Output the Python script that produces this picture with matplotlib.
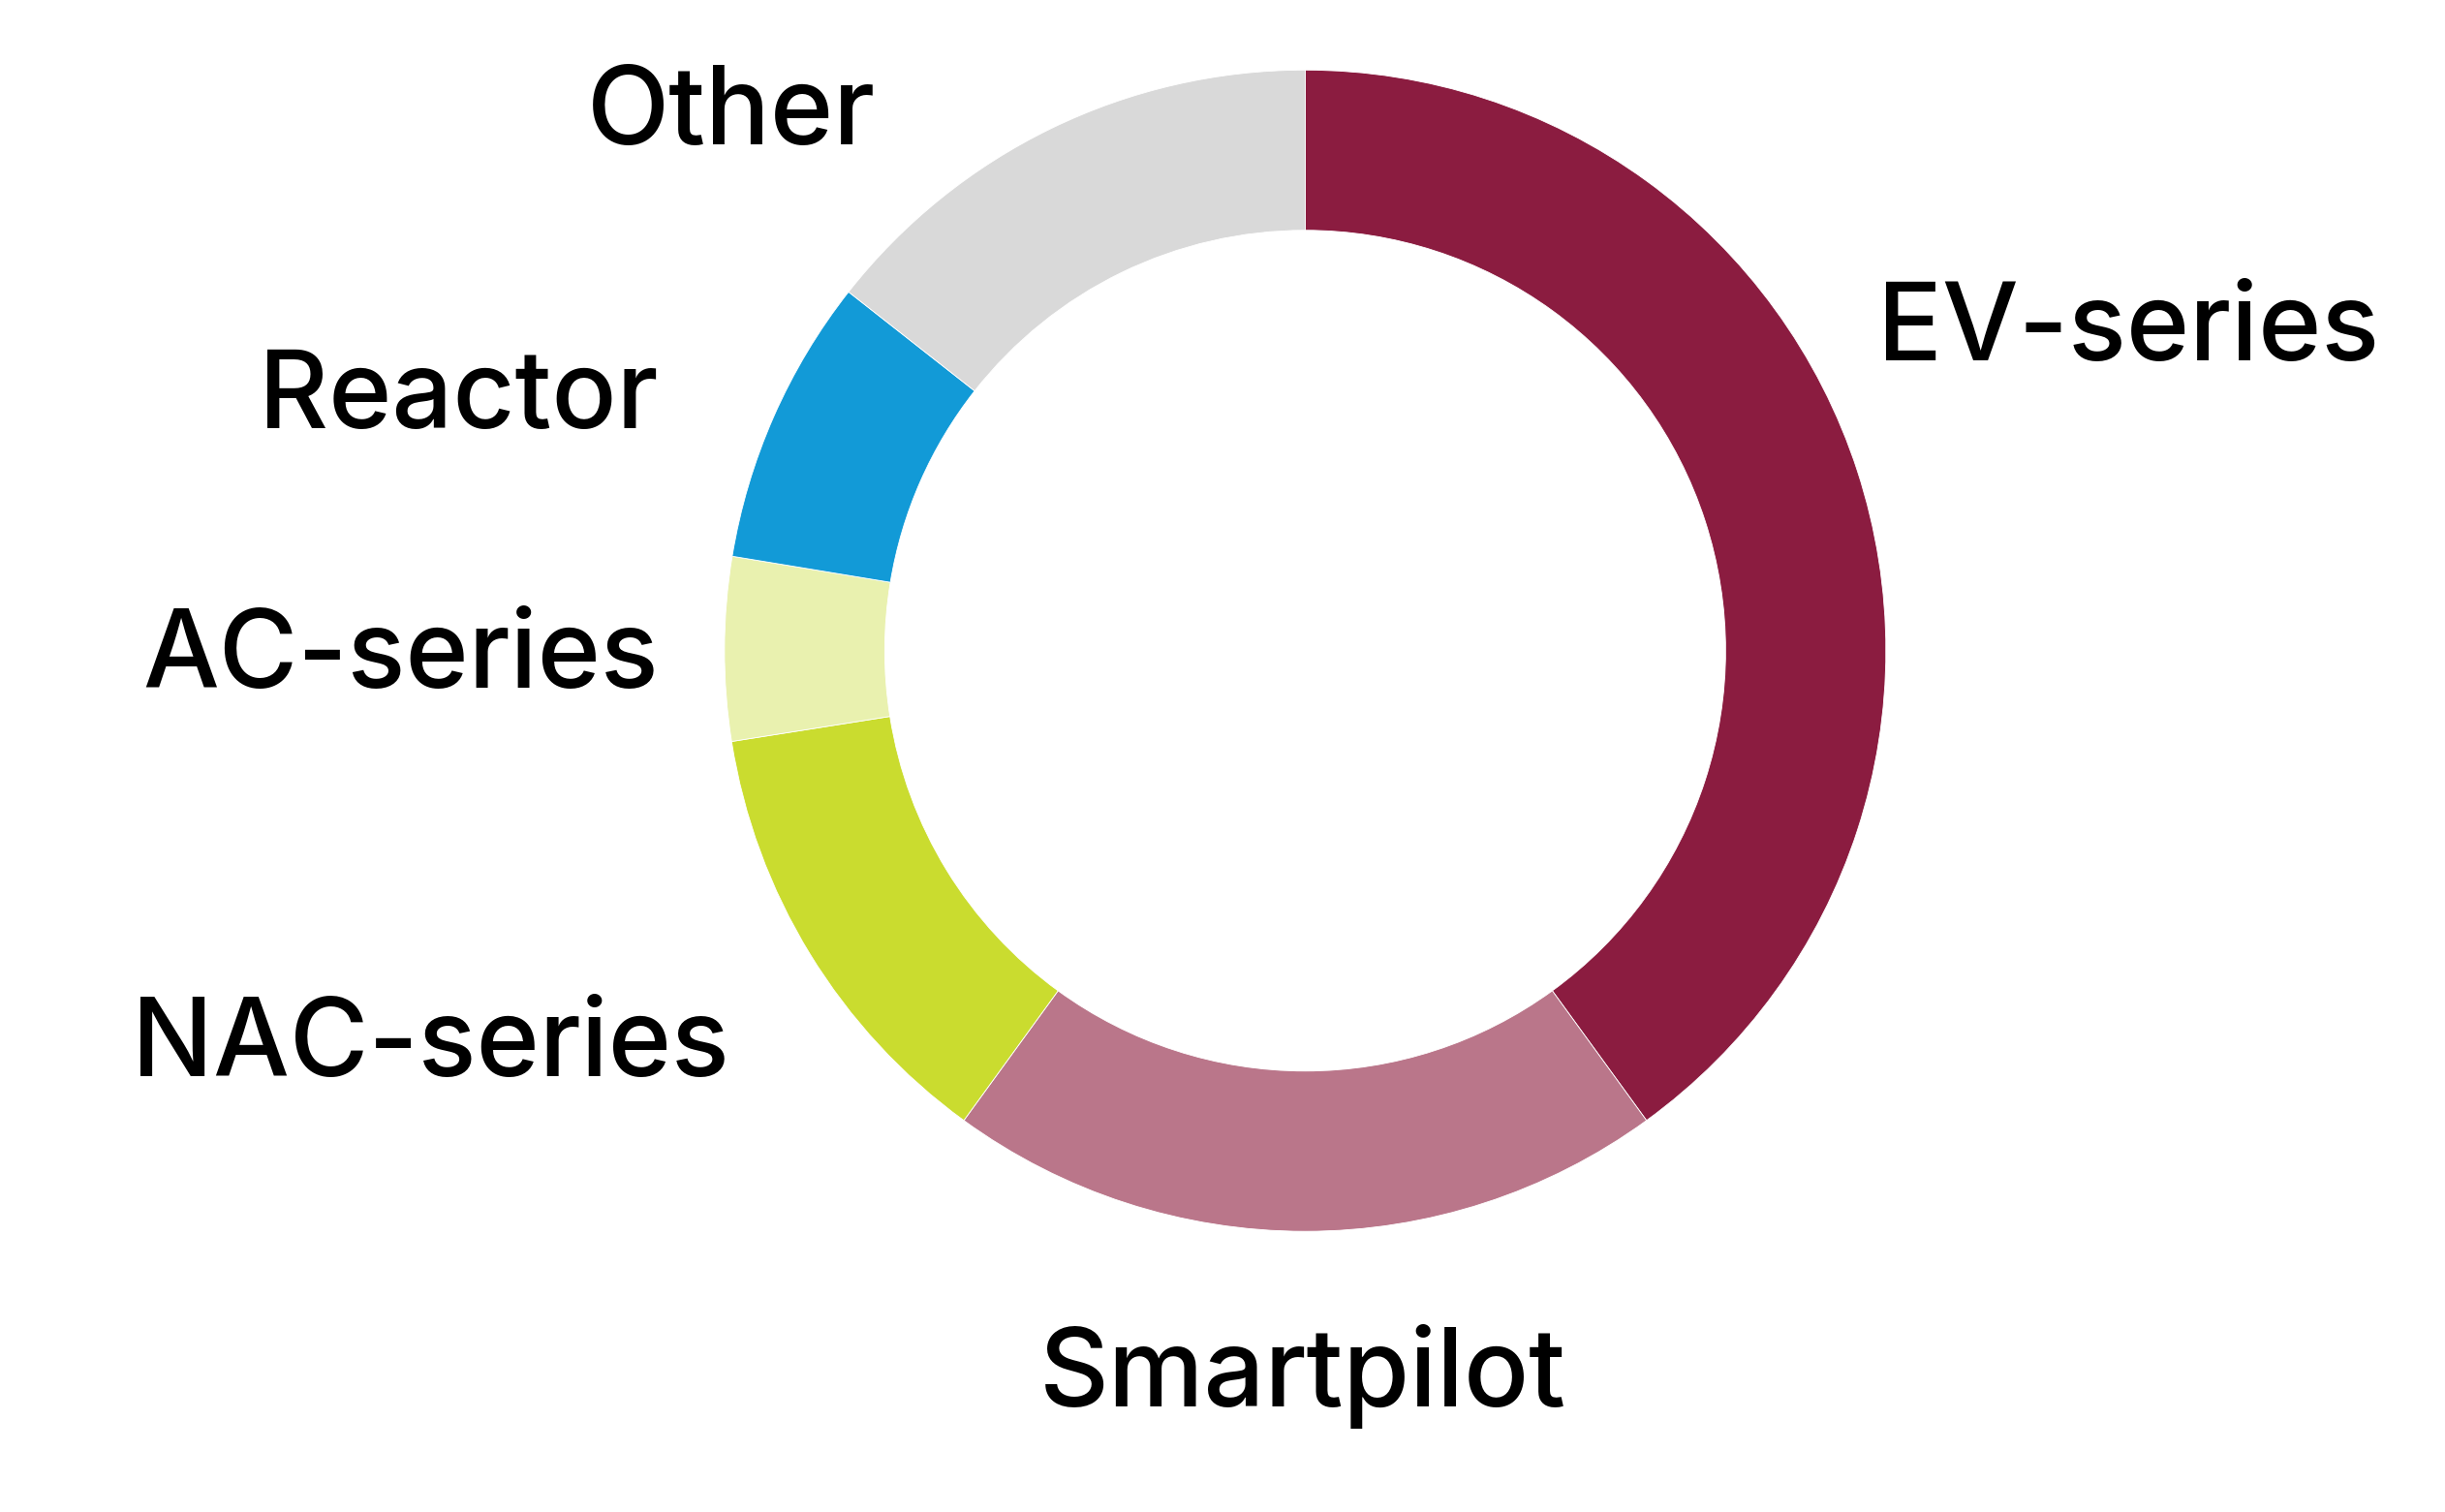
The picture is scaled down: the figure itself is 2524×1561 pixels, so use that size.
import matplotlib
matplotlib.use("Agg")
import matplotlib.pyplot as plt

labels = ["EV-series", "Smartpilot", "NAC-series", "AC-series", "Reactor", "Other"]
shares = [40.0, 20.0, 12.5, 5.1, 8.0, 14.4]
colors = ["#8B1C40", "#BA768A", "#CADC2F", "#E9F1AF", "#129AD7", "#D9D9D9"]

# label anchor points, in units of the outer radius
label_x = [1.418, -0.004, -1.507, -1.558, -1.458, -0.988]
label_y = [0.550, -1.250, -0.683, -0.015, 0.433, 0.922]

plt.rcParams["font.family"] = ["Inter", "DejaVu Sans"]

fig = plt.figure(figsize=(25.24, 15.61), dpi=100)
ax = fig.add_axes([0, 0, 1, 1])

ax.pie(shares, colors=colors, startangle=90, counterclock=False,
       radius=1.0, wedgeprops=dict(width=0.276, edgecolor="white", linewidth=0.6))

for name, x, y in zip(labels, label_x, label_y):
    ax.text(x, y, name, ha="center", va="center", fontsize=80,
            fontweight="medium", color="black")

ax.set_xlim(-2.2476, 1.9628)
ax.set_ylim(-1.4834, 1.1206)
ax.set_aspect("auto")
ax.axis("off")

fig.savefig("out.png", dpi=100, facecolor="white")
